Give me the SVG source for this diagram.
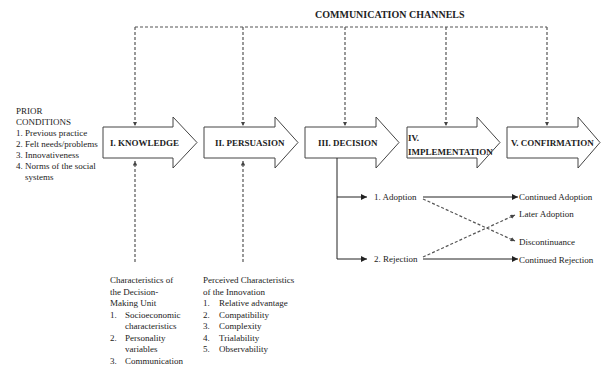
<svg xmlns="http://www.w3.org/2000/svg" width="601" height="365" viewBox="0 0 601 365">
<defs>
<style>
.t{font-family:"Liberation Serif","Times New Roman",serif;font-size:9px;fill:#222}
.b{font-family:"Liberation Serif","Times New Roman",serif;font-size:9px;font-weight:bold;fill:#222}
.h{font-family:"Liberation Serif","Times New Roman",serif;font-size:10px;font-weight:bold;fill:#222}
.stage{fill:#fff;stroke:#444;stroke-width:1}
.dash{fill:none;stroke:#555;stroke-width:1.2;stroke-dasharray:3,2}
.solid{fill:none;stroke:#222;stroke-width:1}
</style>
<marker id="ah" viewBox="0 0 10 10" refX="10" refY="5" markerWidth="6" markerHeight="6" markerUnits="userSpaceOnUse" orient="auto">
<path d="M0,0 L10,5 L0,10 z" fill="#222"/>
</marker>
<marker id="ahs" viewBox="0 0 10 10" refX="10" refY="5" markerWidth="4.5" markerHeight="4.5" markerUnits="userSpaceOnUse" orient="auto">
<path d="M0,0 L10,5 L0,10 z" fill="#444"/>
</marker>
</defs>
<rect width="601" height="365" fill="#fff"/>

<g id="title"><text class="h" x="315" y="18">COMMUNICATION CHANNELS</text></g>

<g id="prior">
<text class="t" x="16" y="113.5">PRIOR</text>
<text class="t" x="16" y="124.5">CONDITIONS</text>
<text class="t" x="16" y="135.5">1. Previous practice</text>
<text class="t" x="16" y="146.5">2. Felt needs/problems</text>
<text class="t" x="16" y="157.5">3. Innovativeness</text>
<text class="t" x="16" y="168.5">4. Norms of the social</text>
<text class="t" x="25" y="180">systems</text>
</g>

<g id="knowledge">
<polygon class="stage" points="103,127 173,127 173,117 197,142.5 173,168 173,158 103,158"/>
<text class="b" x="110" y="146">I. KNOWLEDGE</text>
</g>
<g id="persuasion">
<polygon class="stage" points="204,127 275,127 275,117 298,142.5 275,168 275,158 204,158"/>
<text class="b" x="215" y="146">II. PERSUASION</text>
</g>
<g id="decision">
<polygon class="stage" points="305,127 376,127 376,117 399,142.5 376,168 376,158 305,158"/>
<text class="b" x="318" y="146">III. DECISION</text>
</g>
<g id="implementation">
<polygon class="stage" points="407,127 477,127 477,117 500,142.5 477,168 477,158 407,158"/>
<text class="b" x="408" y="141">IV.</text>
<text class="b" x="408" y="155">IMPLEMENTATION</text>
</g>
<g id="confirmation">
<polygon class="stage" points="507,127 578,127 578,117 600,142.5 578,168 578,158 507,158"/>
<text class="b" x="511" y="146">V. CONFIRMATION</text>
</g>

<g id="adoption"><text class="t" x="374" y="200">1. Adoption</text></g>
<g id="rejection"><text class="t" x="374" y="262">2. Rejection</text></g>
<g id="continued-adoption"><text class="t" x="519" y="199.5">Continued Adoption</text></g>
<g id="later-adoption"><text class="t" x="519" y="216.5">Later Adoption</text></g>
<g id="discontinuance"><text class="t" x="519" y="245">Discontinuance</text></g>
<g id="continued-rejection"><text class="t" x="519" y="263">Continued Rejection</text></g>

<g id="unit-characteristics">
<text class="t" x="110" y="283">Characteristics of</text>
<text class="t" x="110" y="294.5">the Decision-</text>
<text class="t" x="110" y="306">Making Unit</text>
<text class="t" x="110" y="317.5">1.</text><text class="t" x="125" y="317.5">Socioeconomic</text>
<text class="t" x="125" y="329">characteristics</text>
<text class="t" x="110" y="340.5">2.</text><text class="t" x="125" y="340.5">Personality</text>
<text class="t" x="125" y="352">variables</text>
<text class="t" x="110" y="363.5">3.</text><text class="t" x="125" y="363.5">Communication</text>
</g>

<g id="innovation-characteristics">
<text class="t" x="203" y="283">Perceived Characteristics</text>
<text class="t" x="203" y="294.5">of the Innovation</text>
<text class="t" x="203" y="306">1.</text><text class="t" x="219" y="306">Relative advantage</text>
<text class="t" x="203" y="317.5">2.</text><text class="t" x="219" y="317.5">Compatibility</text>
<text class="t" x="203" y="329">3.</text><text class="t" x="219" y="329">Complexity</text>
<text class="t" x="203" y="340.5">4.</text><text class="t" x="219" y="340.5">Trialability</text>
<text class="t" x="203" y="352">5.</text><text class="t" x="219" y="352">Observability</text>
</g>

<g id="connectors">
<path class="dash" d="M135,27 H547"/>
<path class="dash" d="M135,27 V126" marker-end="url(#ahs)"/>
<path class="dash" d="M243,27 V126" marker-end="url(#ahs)"/>
<path class="dash" d="M345,27 V126" marker-end="url(#ahs)"/>
<path class="dash" d="M446,27 V126" marker-end="url(#ahs)"/>
<path class="dash" d="M547,27 V126" marker-end="url(#ahs)"/>
<path class="dash" d="M135,262 V161" marker-end="url(#ahs)"/>
<path class="dash" d="M243,262 V161" marker-end="url(#ahs)"/>
<path class="solid" d="M337,158 V259 H367" marker-end="url(#ah)"/>
<path class="solid" d="M337,197 H367" marker-end="url(#ah)"/>
<path class="solid" d="M423,197 H518" marker-end="url(#ah)"/>
<path class="solid" d="M423,259 H518" marker-end="url(#ah)"/>
<path class="dash" d="M423,199 L515,241" marker-end="url(#ahs)"/>
<path class="dash" d="M423,257 L515,215" marker-end="url(#ahs)"/>
</g>
</svg>
